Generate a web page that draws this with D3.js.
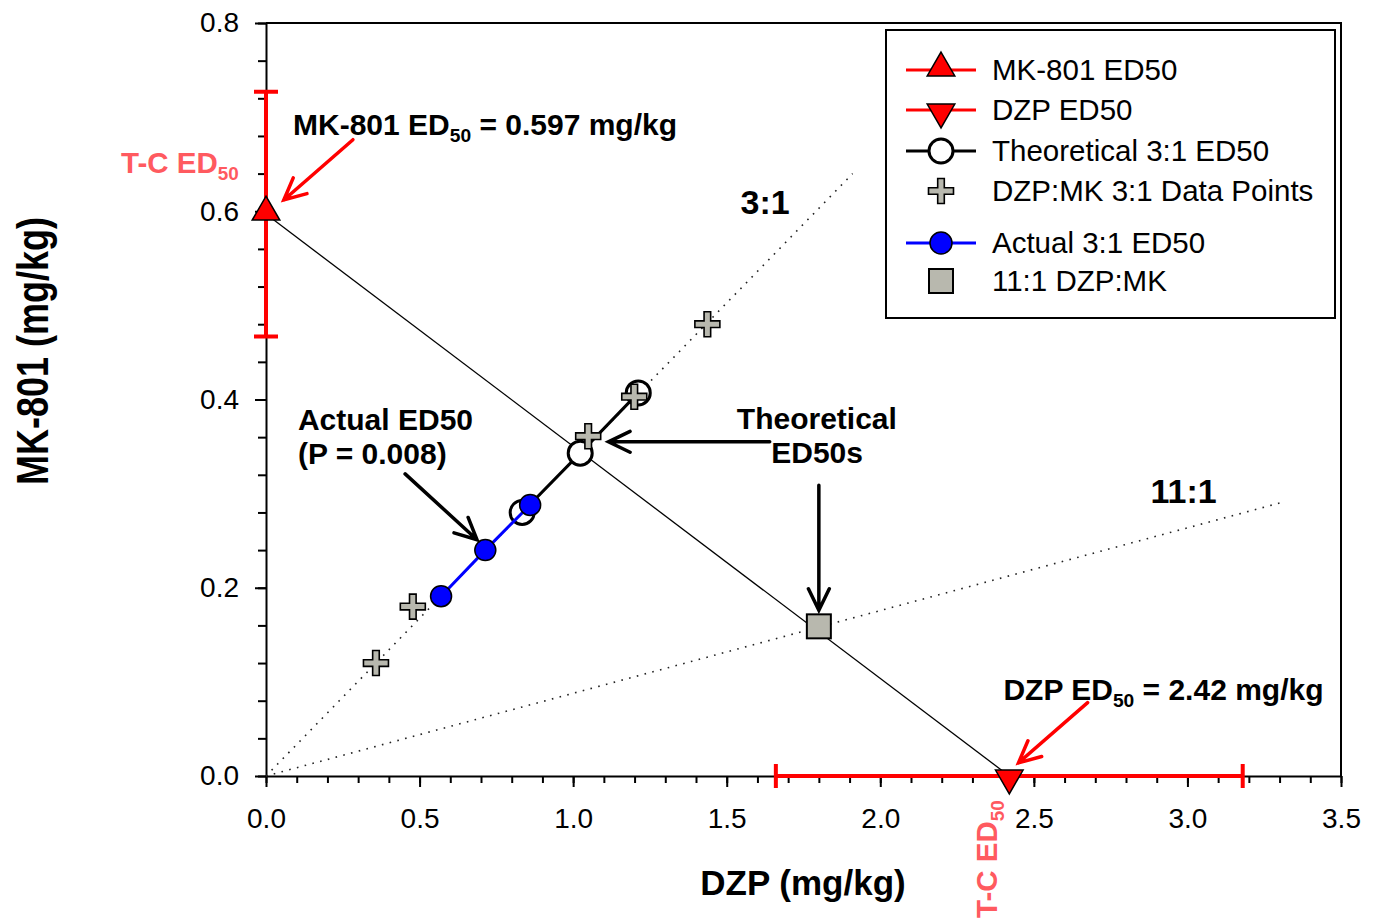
<!DOCTYPE html>
<html>
<head>
<meta charset="utf-8">
<script src="https://cdn.jsdelivr.net/npm/d3@7"></script>
<style>
body { margin: 0; background: #fff; }
svg text { font-family: "Liberation Sans", Arial, sans-serif; }
</style>
</head>
<body>
<div id="chart"></div>
<script>
// isobologram values (DZP mg/kg, MK-801 mg/kg)
const mkEd50 = [0, 0.597];
const mkCI = [0.467, 0.727];
const dzpEd50 = [2.42, 0];
const dzpCI = [1.66, 3.18];
const theoDzp = [0.834, 1.023, 1.212];
const theoMk = [0.280, 0.343, 0.407];
const actualDzp = [0.570, 0.714, 0.860];
const actualMk = [0.191, 0.240, 0.288];
const pointsDzp = [0.358, 0.478, 1.049, 1.199, 1.437];
const pointsMk = [0.120, 0.180, 0.361, 0.403, 0.480];
const square11 = [1.80, 0.159];
const ratio3End = [1.91, 0.64];
const ratio11End = [3.30, 0.29];
const xMajor = [0, 0.5, 1.0, 1.5, 2.0, 2.5, 3.0, 3.5];
const yMajor = [0, 0.2, 0.4, 0.6, 0.8];

const width = 1374;
const height = 920;
const margin = { top: 23, right: 33, bottom: 144, left: 266 };

const svg = d3.select('#chart')
    .append('svg')
    .attr('width', width)
    .attr('height', height);

const x = d3.scaleLinear().domain([0, 3.5]).range([margin.left, width - margin.right]);
const y = d3.scaleLinear().domain([0, 0.8]).range([height - margin.bottom, margin.top]);

const RED = '#ff0000';
const PINK = '#ff5a5f';
const GREY = '#b8b8ae';

// Axes - minor first, then major with labels
const xMinor = d3.range(0, 3.501, 0.1);
const yMinor = d3.range(0, 0.801, 0.04);

svg.append('g')
    .attr('transform', `translate(0,${y(0)})`)
    .call(d3.axisBottom(x).tickValues(xMinor).tickSize(7).tickFormat(''))
    .call((g) => g.select('.domain').remove())
    .call((g) => g.selectAll('line').attr('stroke-width', 2));

svg.append('g')
    .attr('transform', `translate(${x(0)},0)`)
    .call(d3.axisLeft(y).tickValues(yMinor).tickSize(8).tickFormat(''))
    .call((g) => g.select('.domain').remove())
    .call((g) => g.selectAll('line').attr('stroke-width', 2));

const xAxis = svg.append('g')
    .attr('transform', `translate(0,${y(0)})`)
    .call(d3.axisBottom(x).tickValues(xMajor).tickSize(11).tickSizeOuter(0)
        .tickPadding(21).tickFormat(d3.format('.1f')));
xAxis.selectAll('text').attr('font-size', 28).attr('fill', '#000')
    .attr('font-family', '"Liberation Sans", Arial, sans-serif');
xAxis.selectAll('line, path').attr('stroke-width', 2);

const yAxis = svg.append('g')
    .attr('transform', `translate(${x(0)},0)`)
    .call(d3.axisLeft(y).tickValues(yMajor).tickSize(11).tickSizeOuter(0)
        .tickPadding(16).tickFormat(d3.format('.1f')));
yAxis.selectAll('text').attr('font-size', 28).attr('fill', '#000')
    .attr('font-family', '"Liberation Sans", Arial, sans-serif');
yAxis.selectAll('line, path').attr('stroke-width', 2);

// Top and right border
svg.append('path')
    .attr('d', `M${x(0)},${y(0.8)}H${x(3.5)}V${y(0)}`)
    .attr('fill', 'none')
    .attr('stroke', '#000')
    .attr('stroke-width', 2);

// Axis titles
svg.append('text')
    .attr('x', 803)
    .attr('y', 895)
    .attr('text-anchor', 'middle')
    .attr('font-size', 35)
    .attr('font-weight', 'bold')
    .text('DZP (mg/kg)');

svg.append('text')
    .attr('transform', 'translate(48,351) rotate(-90) scale(1,1.22)')
    .attr('text-anchor', 'middle')
    .attr('font-size', 36)
    .attr('font-weight', 'bold')
    .text('MK-801 (mg/kg)');

// Fixed ratio rays (dotted)
const line = d3.line().x((d) => x(d[0])).y((d) => y(d[1]));
[ratio3End, ratio11End].forEach((end) => {
    svg.append('path')
        .attr('d', line([[0, 0], end]))
        .attr('fill', 'none')
        .attr('stroke', '#222')
        .attr('stroke-width', 1.6)
        .attr('stroke-dasharray', '1.6,6.4');
});

// Line of additivity
svg.append('path')
    .attr('d', line([mkEd50, dzpEd50]))
    .attr('fill', 'none')
    .attr('stroke', '#000')
    .attr('stroke-width', 1.3);

// Error bars (95% CI)
const cap = 12;
svg.append('path')
    .attr('d', `M${x(0)},${y(mkCI[0])}V${y(mkCI[1])}`
        + `M${x(0) - cap},${y(mkCI[0])}h${cap * 2}M${x(0) - cap},${y(mkCI[1])}h${cap * 2}`)
    .attr('stroke', RED)
    .attr('stroke-width', 4)
    .attr('fill', 'none');
svg.append('path')
    .attr('d', `M${x(dzpCI[0])},${y(0)}H${x(dzpCI[1])}`
        + `M${x(dzpCI[0])},${y(0) - cap}v${cap * 2}M${x(dzpCI[1])},${y(0) - cap}v${cap * 2}`)
    .attr('stroke', RED)
    .attr('stroke-width', 4)
    .attr('fill', 'none');

// Theoretical ED50s
const theo = theoDzp.map((d, i) => [d, theoMk[i]]);
svg.append('path')
    .attr('d', line(theo))
    .attr('fill', 'none')
    .attr('stroke', '#000')
    .attr('stroke-width', 3);
svg.selectAll('.theo')
    .data(theo)
    .enter()
    .append('circle')
    .attr('class', 'theo')
    .attr('cx', (d) => x(d[0]))
    .attr('cy', (d) => y(d[1]))
    .attr('r', 12)
    .attr('fill', '#fff')
    .attr('stroke', '#000')
    .attr('stroke-width', 3);

// Actual ED50s
const actual = actualDzp.map((d, i) => [d, actualMk[i]]);
svg.append('path')
    .attr('d', line(actual))
    .attr('fill', 'none')
    .attr('stroke', '#0000ff')
    .attr('stroke-width', 3);
svg.selectAll('.actual')
    .data(actual)
    .enter()
    .append('circle')
    .attr('class', 'actual')
    .attr('cx', (d) => x(d[0]))
    .attr('cy', (d) => y(d[1]))
    .attr('r', 10.5)
    .attr('fill', '#0000ff')
    .attr('stroke', '#000')
    .attr('stroke-width', 1.5);

// Data points (plus shape)
function plusPath(a, t) {
    return `M${-t},${-a}H${t}V${-t}H${a}V${t}H${t}V${a}H${-t}V${t}H${-a}V${-t}H${-t}Z`;
}
svg.selectAll('.pt')
    .data(pointsDzp.map((d, i) => [d, pointsMk[i]]))
    .enter()
    .append('path')
    .attr('class', 'pt')
    .attr('d', plusPath(12.5, 3.3))
    .attr('transform', (d) => `translate(${x(d[0])},${y(d[1])})`)
    .attr('fill', GREY)
    .attr('stroke', '#000')
    .attr('stroke-width', 1.6);

// 11:1 point
svg.append('rect')
    .attr('x', x(square11[0]) - 12)
    .attr('y', y(square11[1]) - 12)
    .attr('width', 24)
    .attr('height', 24)
    .attr('fill', GREY)
    .attr('stroke', '#000')
    .attr('stroke-width', 2);

// ED50 triangles
const tri = d3.symbol(d3.symbolTriangle, 330);
svg.append('path')
    .attr('d', tri())
    .attr('transform', `translate(${x(mkEd50[0])},${y(mkEd50[1]) - 2})`)
    .attr('fill', RED)
    .attr('stroke', '#000')
    .attr('stroke-width', 1.5);
svg.append('path')
    .attr('d', tri())
    .attr('transform', `translate(${x(dzpEd50[0])},${y(dzpEd50[1]) + 2}) rotate(180)`)
    .attr('fill', RED)
    .attr('stroke', '#000')
    .attr('stroke-width', 1.5);

// Annotation arrows
const arrows = [
    { from: [0.283, 0.676], to: [0.058, 0.612], color: RED },
    { from: [2.675, 0.078], to: [2.45, 0.014], color: RED },
    { from: [0.453, 0.321], to: [0.687, 0.251], color: '#000' },
    { from: [1.640, 0.355], to: [1.115, 0.355], color: '#000' },
    { from: [1.80, 0.309], to: [1.80, 0.176], color: '#000' },
];
arrows.forEach((a) => {
    const x1 = x(a.from[0]);
    const y1 = y(a.from[1]);
    const x2 = x(a.to[0]);
    const y2 = y(a.to[1]);
    const ang = Math.atan2(y2 - y1, x2 - x1);
    const len = 24;
    const spread = 0.45;
    const h1 = [x2 - len * Math.cos(ang - spread), y2 - len * Math.sin(ang - spread)];
    const h2 = [x2 - len * Math.cos(ang + spread), y2 - len * Math.sin(ang + spread)];
    svg.append('path')
        .attr('d', `M${x1},${y1}L${x2},${y2}M${h1[0]},${h1[1]}L${x2},${y2}L${h2[0]},${h2[1]}`)
        .attr('fill', 'none')
        .attr('stroke', a.color)
        .attr('stroke-width', 3.5)
        .attr('stroke-linecap', 'round');
});

// Text with ED subscript
function subText(g, parts, size) {
    const t = g.append('text')
        .attr('font-weight', 'bold')
        .attr('font-size', size);
    t.append('tspan').text(parts[0]);
    t.append('tspan').attr('font-size', size * 0.64).attr('dy', 7).text('50');
    if (parts[1]) t.append('tspan').attr('dy', -7).text(parts[1]);
    return t;
}

subText(svg, ['MK-801 ED', ' = 0.597 mg/kg'], 30)
    .attr('x', x(0.088)).attr('y', y(0.681));
subText(svg, ['DZP ED', ' = 2.42 mg/kg'], 30)
    .attr('x', x(2.401)).attr('y', y(0.081));
subText(svg, ['T-C ED'], 29.5)
    .attr('fill', PINK)
    .attr('x', 121).attr('y', 173);
subText(svg, ['T-C ED'], 29.5)
    .attr('fill', PINK)
    .attr('transform', 'translate(997,918) rotate(-90)');

const labels = [
    { text: '3:1', at: [1.545, 0.597], size: 34 },
    { text: '11:1', at: [2.880, 0.290], size: 34 },
    { text: 'Actual ED50', at: [0.104, 0.368], size: 30 },
    { text: '(P = 0.008)', at: [0.104, 0.331], size: 30 },
    { text: 'Theoretical', at: [1.533, 0.369], size: 30 },
    { text: 'ED50s', at: [1.645, 0.333], size: 30 },
];
labels.forEach((l) => {
    svg.append('text')
        .attr('x', x(l.at[0]))
        .attr('y', y(l.at[1]))
        .attr('font-size', l.size)
        .attr('font-weight', 'bold')
        .text(l.text);
});

// Legend
const legend = svg.append('g');
legend.append('rect')
    .attr('x', 886)
    .attr('y', 30)
    .attr('width', 449)
    .attr('height', 288)
    .attr('fill', '#fff')
    .attr('stroke', '#000')
    .attr('stroke-width', 2);

const legendRows = [
    { label: 'MK-801 ED50', y: 70, line: RED, mark: 'up' },
    { label: 'DZP ED50', y: 110, line: RED, mark: 'down' },
    { label: 'Theoretical 3:1 ED50', y: 151, line: '#000', mark: 'open' },
    { label: 'DZP:MK 3:1 Data Points', y: 191, line: null, mark: 'plus' },
    { label: 'Actual 3:1 ED50', y: 243, line: '#0000ff', mark: 'blue' },
    { label: '11:1 DZP:MK', y: 281, line: null, mark: 'square' },
];
legendRows.forEach((r) => {
    const cx = 941;
    if (r.line) {
        legend.append('line')
            .attr('x1', 906).attr('x2', 976)
            .attr('y1', r.y).attr('y2', r.y)
            .attr('stroke', r.line)
            .attr('stroke-width', 3);
    }
    if (r.mark === 'up' || r.mark === 'down') {
        legend.append('path')
            .attr('d', tri())
            .attr('transform', `translate(${cx},${r.y + (r.mark === 'up' ? -2 : 2)})${r.mark === 'down' ? ' rotate(180)' : ''}`)
            .attr('fill', RED)
            .attr('stroke', '#000')
            .attr('stroke-width', 1.5);
    } else if (r.mark === 'open') {
        legend.append('circle')
            .attr('cx', cx).attr('cy', r.y).attr('r', 12)
            .attr('fill', '#fff').attr('stroke', '#000').attr('stroke-width', 3);
    } else if (r.mark === 'plus') {
        legend.append('path')
            .attr('d', plusPath(12.5, 3.3))
            .attr('transform', `translate(${cx},${r.y})`)
            .attr('fill', GREY).attr('stroke', '#000').attr('stroke-width', 1.6);
    } else if (r.mark === 'blue') {
        legend.append('circle')
            .attr('cx', cx).attr('cy', r.y).attr('r', 11)
            .attr('fill', '#0000ff').attr('stroke', '#000').attr('stroke-width', 1.5);
    } else {
        legend.append('rect')
            .attr('x', cx - 12).attr('y', r.y - 12)
            .attr('width', 24).attr('height', 24)
            .attr('fill', GREY).attr('stroke', '#000').attr('stroke-width', 2);
    }
    legend.append('text')
        .attr('x', 992)
        .attr('y', r.y + 10)
        .attr('font-size', 29.5)
        .text(r.label);
});
</script>
</body>
</html>
